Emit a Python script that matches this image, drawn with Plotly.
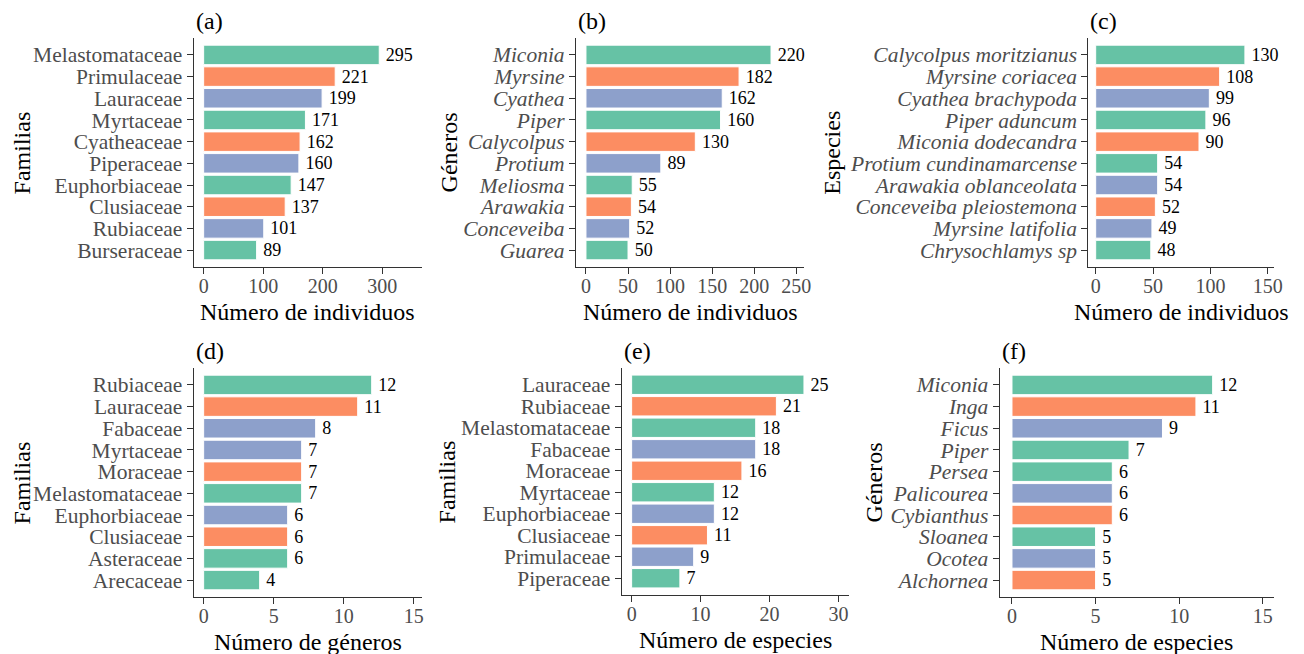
import plotly.graph_objects as go

# ---------------- data ----------------
a_cats = ["Melastomataceae", "Primulaceae", "Lauraceae", "Myrtaceae", "Cyatheaceae",
          "Piperaceae", "Euphorbiaceae", "Clusiaceae", "Rubiaceae", "Burseraceae"]
a_vals = [295, 221, 199, 171, 162, 160, 147, 137, 101, 89]
a_cols = ["g", "o", "b", "g", "o", "b", "g", "o", "b", "g"]

b_cats = ["Miconia", "Myrsine", "Cyathea", "Piper", "Calycolpus",
          "Protium", "Meliosma", "Arawakia", "Conceveiba", "Guarea"]
b_vals = [220, 182, 162, 160, 130, 89, 55, 54, 52, 50]
b_cols = ["g", "o", "b", "g", "o", "b", "g", "o", "b", "g"]

c_cats = ["Calycolpus moritzianus", "Myrsine coriacea", "Cyathea brachypoda", "Piper aduncum",
          "Miconia dodecandra", "Protium cundinamarcense", "Arawakia oblanceolata",
          "Conceveiba pleiostemona", "Myrsine latifolia", "Chrysochlamys sp"]
c_vals = [130, 108, 99, 96, 90, 54, 54, 52, 49, 48]
c_cols = ["g", "o", "b", "g", "o", "g", "b", "o", "b", "g"]

d_cats = ["Rubiaceae", "Lauraceae", "Fabaceae", "Myrtaceae", "Moraceae",
          "Melastomataceae", "Euphorbiaceae", "Clusiaceae", "Asteraceae", "Arecaceae"]
d_vals = [12, 11, 8, 7, 7, 7, 6, 6, 6, 4]
d_cols = ["g", "o", "b", "b", "o", "g", "b", "o", "g", "g"]

e_cats = ["Lauraceae", "Rubiaceae", "Melastomataceae", "Fabaceae", "Moraceae",
          "Myrtaceae", "Euphorbiaceae", "Clusiaceae", "Primulaceae", "Piperaceae"]
e_vals = [25, 21, 18, 18, 16, 12, 12, 11, 9, 7]
e_cols = ["g", "o", "g", "b", "o", "g", "b", "o", "b", "g"]

f_cats = ["Miconia", "Inga", "Ficus", "Piper", "Persea",
          "Palicourea", "Cybianthus", "Sloanea", "Ocotea", "Alchornea"]
f_vals = [12, 11, 9, 7, 6, 6, 6, 5, 5, 5]
f_cols = ["g", "o", "b", "g", "g", "b", "o", "g", "b", "o"]

x_ticks_a = [0, 100, 200, 300]
x_ticks_b = [0, 50, 100, 150, 200, 250]
x_ticks_c = [0, 50, 100, 150]
x_ticks_d = [0, 5, 10, 15]
x_ticks_e = [0, 10, 20, 30]
x_ticks_f = [0, 5, 10, 15]

panel_letters = ["(a)", "(b)", "(c)", "(d)", "(e)", "(f)"]
x_titles = ["Número de individuos", "Número de individuos", "Número de individuos",
            "Número de géneros", "Número de especies", "Número de especies"]
y_titles = ["Familias", "Géneros", "Especies", "Familias", "Familias", "Géneros"]

# ---------------- style ----------------
OFF = 8                      # page body margin of the html page
W, H = 1304 - OFF, 654 - OFF
FONT = "Liberation Serif, Times New Roman, serif"
PALETTE = {"g": "#66C2A5", "o": "#FC8D62", "b": "#8DA0CB"}
AXC = "#333333"
TICKTXT = "#4D4D4D"


def fx(p):
    return (p - OFF) / W


def fy(p):
    return 1 - (p - OFF) / H


panels = [
    dict(cats=a_cats, vals=a_vals, cols=a_cols, ticks=x_ticks_a, xr=[-16.7, 367],
         xd=(195, 425), yd=(38, 267), ital=False, ytx=22, tty=21, xty=312),
    dict(cats=b_cats, vals=b_vals, cols=b_cols, ticks=x_ticks_b, xr=[-11.8, 259.7],
         xd=(580, 810), yd=(38, 267), ital=True, ytx=452, tty=21, xty=312),
    dict(cats=c_cats, vals=c_vals, cols=c_cols, ticks=x_ticks_c, xr=[-6.3, 155.2],
         xd=(1096, 1282.7), yd=(38, 267), ital=True, ytx=837, tty=21, xty=312),
    dict(cats=d_cats, vals=d_vals, cols=d_cols, ticks=x_ticks_d, xr=[-0.71, 15.6],
         xd=(195, 425), yd=(368, 597), ital=False, ytx=22, tty=351, xty=642),
    dict(cats=e_cats, vals=e_vals, cols=e_cols, ticks=x_ticks_e, xr=[-1.44, 31.55],
         xd=(626, 855), yd=(368, 595), ital=False, ytx=450, tty=351, xty=640),
    dict(cats=f_cats, vals=f_vals, cols=f_cols, ticks=x_ticks_f, xr=[-0.73, 15.66],
         xd=(1006.7, 1282.7), yd=(368, 597), ital=True, ytx=880, tty=351, xty=642),
]

fig = go.Figure()
layout = dict(
    width=W, height=H,
    margin=dict(l=0, r=0, t=0, b=0),
    paper_bgcolor="white", plot_bgcolor="white",
    showlegend=False,
    font=dict(family=FONT, color="black"),
    annotations=[],
)

for i, p in enumerate(panels, start=1):
    xs = "" if i == 1 else str(i)
    fig.add_trace(go.Bar(
        x=p["vals"], y=p["cats"], orientation="h",
        marker=dict(color=[PALETTE[c] for c in p["cols"]],
                    line=dict(color="white", width=1)),
        width=0.9,
        text=["\u2009" + str(v) for v in p["vals"]], textposition="outside",
        textfont=dict(size=18, color="black", family=FONT),
        constraintext="none", cliponaxis=False,
        xaxis="x" + xs, yaxis="y" + xs, hoverinfo="skip",
    ))
    layout["xaxis" + xs] = dict(
        domain=[fx(p["xd"][0]), fx(p["xd"][1])], range=p["xr"],
        tickmode="array", tickvals=p["ticks"], anchor="y" + xs,
        showline=True, linecolor=AXC, linewidth=1.2,
        ticks="outside", ticklen=6, tickcolor=AXC, tickwidth=1.1,
        ticklabelstandoff=-5,
        tickfont=dict(size=20, color=TICKTXT, family=FONT),
        showgrid=False, zeroline=False, fixedrange=True,
    )
    layout["yaxis" + xs] = dict(
        domain=[fy(p["yd"][1]), fy(p["yd"][0])],
        type="category", categoryorder="array",
        categoryarray=list(reversed(p["cats"])),
        tickmode="array", tickvals=p["cats"],
        range=[-0.78, 9.78], anchor="x" + xs,
        showline=True, linecolor=AXC, linewidth=1.2,
        ticks="outside", ticklen=6, tickcolor=AXC, tickwidth=1.1,
        tickfont=dict(size=21.5, color=TICKTXT, family=FONT,
                      style="italic" if p["ital"] else "normal"),
        showgrid=False, zeroline=False, fixedrange=True,
    )
    # panel letter
    layout["annotations"].append(dict(
        text=panel_letters[i - 1], xref="paper", yref="paper",
        x=fx(p["xd"][0]), y=fy(p["tty"]), xanchor="left", yanchor="middle",
        showarrow=False, font=dict(size=24, color="black", family=FONT)))
    # x axis title
    layout["annotations"].append(dict(
        text=x_titles[i - 1], xref="paper", yref="paper",
        x=fx((p["xd"][0] + p["xd"][1]) / 2), y=fy(p["xty"]),
        xanchor="center", yanchor="middle",
        showarrow=False, font=dict(size=24, color="black", family=FONT)))
    # y axis title
    layout["annotations"].append(dict(
        text=y_titles[i - 1], xref="paper", yref="paper",
        x=fx(p["ytx"]), y=fy((p["yd"][0] + p["yd"][1]) / 2),
        xanchor="center", yanchor="middle", textangle=-90,
        showarrow=False, font=dict(size=24, color="black", family=FONT)))

fig.update_layout(**layout)
fig.write_html("out.html")
